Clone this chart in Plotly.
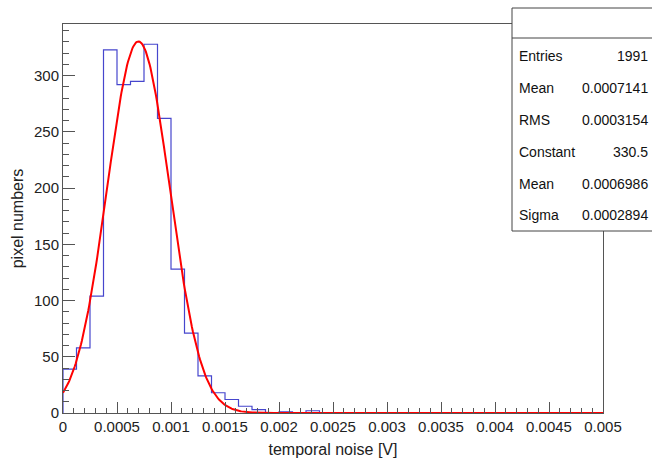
import numpy as np
import plotly.graph_objects as go

# Histogram: 40 bins from 0 to 0.005 V
x_min = 0.0
x_max = 0.005
n_bins = 40
counts = [39, 58, 104, 323, 292, 295, 328, 262, 128, 71,
          33, 18, 12, 6, 3, 0, 1, 0, 2, 0,
          0, 0, 0, 0, 0, 0, 0, 0, 0, 0,
          0, 0, 0, 0, 0, 0, 0, 0, 0, 0]

# Gaussian fit parameters (from stats box)
fit_constant = 330.5
fit_mean = 0.0006986
fit_sigma = 0.0002894

stat_labels = ["Entries", "Mean", "RMS", "Constant", "Mean", "Sigma"]
stat_values = ["1991", "0.0007141", "0.0003154", "330.5", "0.0006986", "0.0002894"]

x_ticks = [0, 0.0005, 0.001, 0.0015, 0.002, 0.0025, 0.003, 0.0035, 0.004, 0.0045, 0.005]
x_ticktext = ["0", "0.0005", "0.001", "0.0015", "0.002", "0.0025", "0.003", "0.0035", "0.004", "0.0045", "0.005"]
y_ticks = [0, 50, 100, 150, 200, 250, 300]

edges = np.linspace(x_min, x_max, n_bins + 1)
hx = list(edges)
hy = list(counts) + [counts[-1]]

fx = np.linspace(x_min, x_max, 600)
fy = fit_constant * np.exp(-0.5 * ((fx - fit_mean) / fit_sigma) ** 2)

W, H = 652, 458
L, R, T, B = 63, 49, 24, 45

fig = go.Figure()
fig.add_trace(go.Scatter(x=hx, y=hy, mode="lines", line=dict(color="rgb(70,70,205)", width=1.2, shape="hv"),
                         showlegend=False, hoverinfo="skip"))
fig.add_trace(go.Scatter(x=[x_min, x_min], y=[0, counts[0]], mode="lines",
                         line=dict(color="rgb(70,70,205)", width=1.2), showlegend=False, hoverinfo="skip"))
fig.add_trace(go.Scatter(x=fx, y=fy, mode="lines", line=dict(color="#ff0000", width=2),
                         showlegend=False, hoverinfo="skip"))

font_family = "Liberation Sans, Arial, Helvetica, sans-serif"
axis_col = "#555555"

fig.update_layout(
    width=W, height=H,
    margin=dict(l=L, r=R, t=T, b=B, autoexpand=False),
    paper_bgcolor="white", plot_bgcolor="white",
    font=dict(family=font_family, size=16, color="#222222"),
    xaxis=dict(range=[x_min, x_max], tickvals=x_ticks, ticktext=x_ticktext,
               ticks="inside", ticklen=11, tickcolor=axis_col, tickwidth=1,
               minor=dict(ticks="inside", ticklen=5, dtick=0.0001, tickcolor=axis_col, tickwidth=1),
               showline=True, linecolor=axis_col, linewidth=1, mirror=True,
               showgrid=False, zeroline=False, automargin=False,
               title=dict(text="temporal noise [V]", font=dict(size=16), standoff=10),
               tickfont=dict(size=15)),
    yaxis=dict(range=[0, 346], tickvals=y_ticks,
               ticks="inside", ticklen=12, tickcolor=axis_col, tickwidth=1,
               minor=dict(ticks="inside", ticklen=6, dtick=10, tickcolor=axis_col, tickwidth=1),
               showline=True, linecolor=axis_col, linewidth=1, mirror=True,
               showgrid=False, zeroline=False, automargin=False,
               title=dict(text="pixel numbers", font=dict(size=16), standoff=6),
               tickfont=dict(size=15)),
)

# Stats box (paper coordinates converted from pixels)
pw = W - L - R
ph = H - T - B

def px_x(p):
    return (p - L) / pw

def px_y(p):
    return (H - B - p) / ph

box_l, box_r, box_t, box_b, sep = 512, 655, 8, 231, 38
fig.add_shape(type="rect", xref="paper", yref="paper",
              x0=px_x(box_l), x1=px_x(box_r), y0=px_y(box_b), y1=px_y(box_t),
              line=dict(color="#444444", width=1), fillcolor="white", layer="above")
fig.add_shape(type="line", xref="paper", yref="paper",
              x0=px_x(box_l), x1=px_x(box_r), y0=px_y(sep), y1=px_y(sep),
              line=dict(color="#444444", width=1), layer="above")

row_y = [56, 88, 120, 152, 184, 215]
for lab, val, ry in zip(stat_labels, stat_values, row_y):
    fig.add_annotation(x=px_x(517), y=px_y(ry), xref="paper", yref="paper", text=lab,
                       showarrow=False, xanchor="left", yanchor="middle",
                       font=dict(size=14, color="#111111"))
    fig.add_annotation(x=px_x(650), y=px_y(ry), xref="paper", yref="paper", text=val,
                       showarrow=False, xanchor="right", yanchor="middle",
                       font=dict(size=14, color="#111111"))

fig.write_html("out.html")
